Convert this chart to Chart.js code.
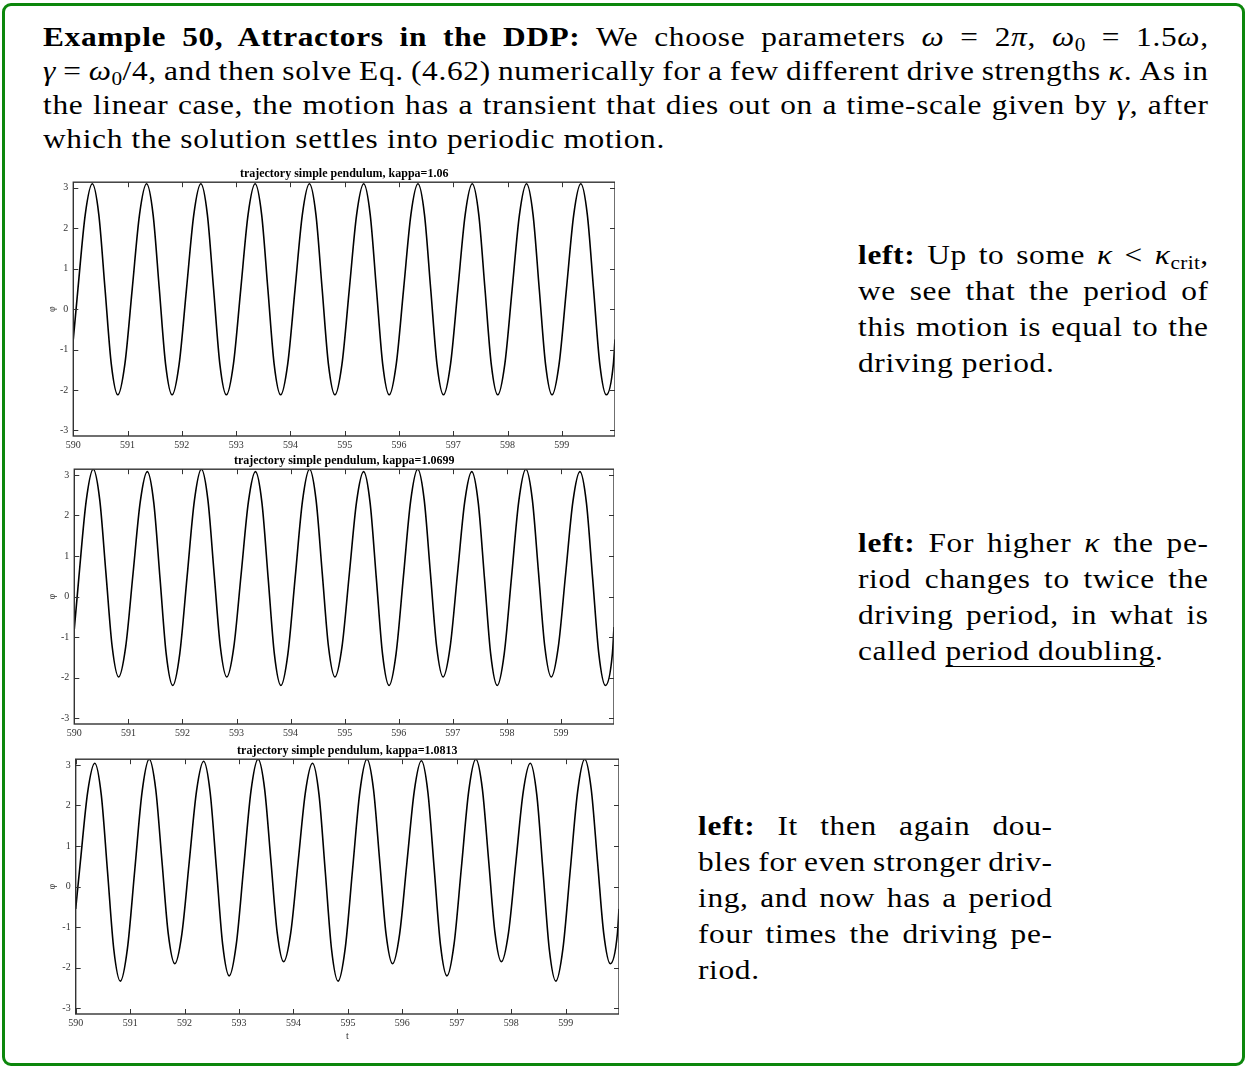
<!DOCTYPE html>
<html><head><meta charset="utf-8">
<script src="https://cdn.jsdelivr.net/npm/chart.js@4.4.1/dist/chart.umd.min.js"></script>
<style>
html,body{margin:0;padding:0;background:#fff;}
body{width:1247px;height:1068px;position:relative;overflow:hidden;font-family:"Liberation Serif","Times New Roman",serif;color:#000;}
.frame{position:absolute;left:2px;top:3px;width:1243px;height:1063px;box-sizing:border-box;border:3px solid #0c870c;border-radius:9px;}
.txt{position:absolute;font-size:28px;letter-spacing:0.6px;transform:scaleX(1.12);transform-origin:0 0;}
.txt div{white-space:nowrap;text-align:left;}
sub{font-size:19px;line-height:0;vertical-align:baseline;position:relative;top:5px;letter-spacing:0.3px;}
u{text-decoration-thickness:1px;text-underline-offset:6px;}
canvas{position:absolute;}
</style></head>
<body>
<div class="frame"></div>

<div class="txt" data-w="1165" style="left:43px;top:20px;line-height:34px">
<div><b>Example 50, Attractors in the DDP:</b> We choose parameters <i>ω</i> = 2<i>π</i>, <i>ω</i><sub>0</sub> = 1.5<i>ω</i>,</div>
<div><i>γ</i> = <i>ω</i><sub>0</sub>/4, and then solve Eq. (4.62) numerically for a few different drive strengths <i>κ</i>. As in</div>
<div>the linear case, the motion has a transient that dies out on a time-scale given by <i>γ</i>, after</div>
<div class="last">which the solution settles into periodic motion.</div>
</div>

<div class="txt" data-w="350" style="left:858px;top:237px;line-height:36px">
<div><b>left:</b> Up to some <i>κ</i> &lt; <i>κ</i><sub>crit</sub>,</div>
<div>we see that the period of</div>
<div>this motion is equal to the</div>
<div class="last">driving period.</div>
</div>

<div class="txt" data-w="350" style="left:858px;top:525px;line-height:36px">
<div><b>left:</b> For higher <i>κ</i> the pe-</div>
<div>riod changes to twice the</div>
<div>driving period, in what is</div>
<div class="last">called <u>period doubling</u>.</div>
</div>

<div class="txt" data-w="354" style="left:698px;top:808px;line-height:36px">
<div><b>left:</b> It then again dou-</div>
<div>bles for even stronger driv-</div>
<div>ing, and now has a period</div>
<div>four times the driving pe-</div>
<div class="last">riod.</div>
</div>

<canvas id="c1" width="575" height="289" style="left:40px;top:165px"></canvas>
<canvas id="c2" width="574" height="290" style="left:40px;top:452px"></canvas>
<canvas id="c3" width="579" height="304" style="left:40px;top:742px"></canvas>

<script>
// time samples (t): extrema and points between them
const tSamples = [
590.00,
590.085,590.22,590.35,590.47,590.585,590.70,590.82,590.95,
591.085,591.22,591.35,591.47,591.585,591.70,591.82,591.95,
592.085,592.22,592.35,592.47,592.585,592.70,592.82,592.95,
593.085,593.22,593.35,593.47,593.585,593.70,593.82,593.95,
594.085,594.22,594.35,594.47,594.585,594.70,594.82,594.95,
595.085,595.22,595.35,595.47,595.585,595.70,595.82,595.95,
596.085,596.22,596.35,596.47,596.585,596.70,596.82,596.95,
597.085,597.22,597.35,597.47,597.585,597.70,597.82,597.95,
598.085,598.22,598.35,598.47,598.585,598.70,598.82,598.95,
599.085,599.22,599.35,599.47,599.585,599.70,599.82,599.95,
599.98];

// phi for kappa = 1.06 (period 1)
const phiKappa106 = [
-0.75,
0.49,2.34,3.10,2.34,0.49,-1.36,-2.12,-1.36,
0.49,2.34,3.10,2.34,0.49,-1.36,-2.12,-1.36,
0.49,2.34,3.10,2.34,0.49,-1.36,-2.12,-1.36,
0.49,2.34,3.10,2.34,0.49,-1.36,-2.12,-1.36,
0.49,2.34,3.10,2.34,0.49,-1.36,-2.12,-1.36,
0.49,2.34,3.10,2.34,0.49,-1.36,-2.12,-1.36,
0.49,2.34,3.10,2.34,0.49,-1.36,-2.12,-1.36,
0.49,2.34,3.10,2.34,0.49,-1.36,-2.12,-1.36,
0.49,2.34,3.10,2.34,0.49,-1.36,-2.12,-1.36,
0.49,2.34,3.10,2.34,0.49,-1.36,-2.12,-1.36,
-0.75];

// phi for kappa = 1.0699 (period 2)
const phiKappa10699 = [
-0.80,
0.48,2.36,3.14,2.39,0.58,-1.23,-1.98,-1.24,
0.55,2.34,3.08,2.31,0.45,-1.42,-2.19,-1.41,
0.48,2.36,3.14,2.39,0.58,-1.23,-1.98,-1.24,
0.55,2.34,3.08,2.31,0.45,-1.42,-2.19,-1.41,
0.48,2.36,3.14,2.39,0.58,-1.23,-1.98,-1.24,
0.55,2.34,3.08,2.31,0.45,-1.42,-2.19,-1.41,
0.48,2.36,3.14,2.39,0.58,-1.23,-1.98,-1.24,
0.55,2.34,3.08,2.31,0.45,-1.42,-2.19,-1.41,
0.48,2.36,3.14,2.39,0.58,-1.23,-1.98,-1.24,
0.55,2.34,3.08,2.31,0.45,-1.42,-2.19,-1.41,
-0.75];

// phi for kappa = 1.0813 (period 4)
const phiKappa10813 = [
-0.55,
0.60,2.33,3.04,2.26,0.36,-1.55,-2.33,-1.53,
0.41,2.34,3.14,2.40,0.62,-1.16,-1.90,-1.17,
0.60,2.36,3.09,2.32,0.45,-1.43,-2.20,-1.42,
0.47,2.36,3.14,2.41,0.65,-1.12,-1.85,-1.14,
0.60,2.33,3.04,2.26,0.36,-1.55,-2.33,-1.53,
0.41,2.34,3.14,2.40,0.62,-1.16,-1.90,-1.17,
0.60,2.36,3.10,2.32,0.45,-1.43,-2.20,-1.42,
0.47,2.36,3.14,2.41,0.65,-1.12,-1.85,-1.14,
0.60,2.33,3.04,2.26,0.36,-1.55,-2.33,-1.53,
0.41,2.34,3.14,2.40,0.62,-1.16,-1.90,-1.17,
-0.55];

const xTicks = [590,591,592,593,594,595,596,597,598,599];
const yTicks = [-3,-2,-1,0,1,2,3];
const xLimits = [590, 599.98];
const yLimits = [-3.14, 3.14];
const chartTitles = [
  'trajectory simple pendulum, kappa=1.06',
  'trajectory simple pendulum, kappa=1.0699',
  'trajectory simple pendulum, kappa=1.0813'
];
const yAxisLabel = 'φ';
const xAxisLabel = 't';

const SERIF = '"Liberation Serif", "Times New Roman", serif';
const TEXT_SCALE = 1.12;

// justify each text line to its block width (like LaTeX interword stretching)
function justifyLines() {
  document.querySelectorAll('.txt').forEach(block => {
    const W = parseFloat(block.dataset.w) / TEXT_SCALE;
    block.style.width = W + 'px';
    block.querySelectorAll(':scope > div').forEach(div => {
      let span = div.querySelector(':scope > span.m');
      if (!span) {
        span = document.createElement('span');
        span.className = 'm';
        while (div.firstChild) span.appendChild(div.firstChild);
        div.appendChild(span);
      }
      div.style.wordSpacing = '0px';
      if (div.classList.contains('last')) return;
      const w = span.getBoundingClientRect().width / TEXT_SCALE - 0.6;
      const n = (div.textContent.match(/ /g) || []).length;
      if (n) div.style.wordSpacing = ((W - w) / n) + 'px';
    });
  });
}
justifyLines();
if (document.fonts && document.fonts.ready) document.fonts.ready.then(justifyLines);

const framePlugin = {
  id: 'frameTicks',
  afterDatasetsDraw(chart) {
    const {ctx, chartArea: a, scales: {x, y}} = chart;
    ctx.save();
    ctx.strokeStyle = '#333';
    ctx.lineWidth = 1.4;
    ctx.strokeRect(a.left, a.top, a.right - a.left, a.bottom - a.top);
    ctx.lineWidth = 1;
    ctx.beginPath();
    const L = 5;
    x.ticks.forEach(t => {
      const px = Math.round(x.getPixelForValue(t.value)) + 0.5;
      ctx.moveTo(px, a.bottom); ctx.lineTo(px, a.bottom - L);
      ctx.moveTo(px, a.top); ctx.lineTo(px, a.top + L);
    });
    y.ticks.forEach(t => {
      const py = Math.round(y.getPixelForValue(t.value)) + 0.5;
      ctx.moveTo(a.left, py); ctx.lineTo(a.left + L, py);
      ctx.moveTo(a.right, py); ctx.lineTo(a.right - L, py);
    });
    ctx.stroke();
    ctx.restore();
  }
};

function build(id, phi, title, yW, xH, xTitle) {
  return new Chart(document.getElementById(id), {
    type: 'line',
    data: {
      datasets: [{
        data: tSamples.map((t, i) => ({x: t, y: phi[i]})),
        borderColor: '#000',
        borderWidth: 1.6,
        pointRadius: 0,
        cubicInterpolationMode: 'monotone',
        fill: false
      }]
    },
    options: {
      responsive: false,
      animation: false,
      devicePixelRatio: 1,
      layout: {padding: 0},
      plugins: {
        legend: {display: false},
        tooltip: {enabled: false},
        title: {
          display: true, fullSize: false, text: title, color: '#000',
          font: {family: SERIF, size: 12, weight: 'bold', lineHeight: 1.1},
          padding: {top: 2, bottom: 2}
        }
      },
      scales: {
        x: {
          type: 'linear', min: xLimits[0], max: xLimits[1],
          grid: {display: false, drawTicks: false},
          border: {display: false},
          afterBuildTicks: s => { s.ticks = xTicks.map(v => ({value: v})); },
          afterFit: s => { s.height = xH; },
          ticks: {padding: 3, color: '#333', autoSkip: false, maxRotation: 0,
                  font: {family: SERIF, size: 10}},
          title: {display: !!xTitle, text: xTitle || '', color: '#333',
                  font: {family: SERIF, size: 10}, padding: {top: 0, bottom: 4}}
        },
        y: {
          type: 'linear', min: yLimits[0], max: yLimits[1],
          grid: {display: false, drawTicks: false},
          border: {display: false},
          afterBuildTicks: s => { s.ticks = yTicks.map(v => ({value: v})); },
          afterFit: s => { s.width = yW; },
          ticks: {padding: 5, color: '#333', font: {family: SERIF, size: 10}},
          title: {display: true, text: yAxisLabel, color: '#333',
                  font: {family: SERIF, size: 10}, padding: {top: 6, bottom: 0}}
        }
      }
    },
    plugins: [framePlugin]
  });
}

build('c1', phiKappa106, chartTitles[0], 33.3, 18, null);
build('c2', phiKappa10699, chartTitles[1], 34.3, 18, null);
build('c3', phiKappa10813, chartTitles[2], 35.7, 32, xAxisLabel);
</script>
</body></html>
